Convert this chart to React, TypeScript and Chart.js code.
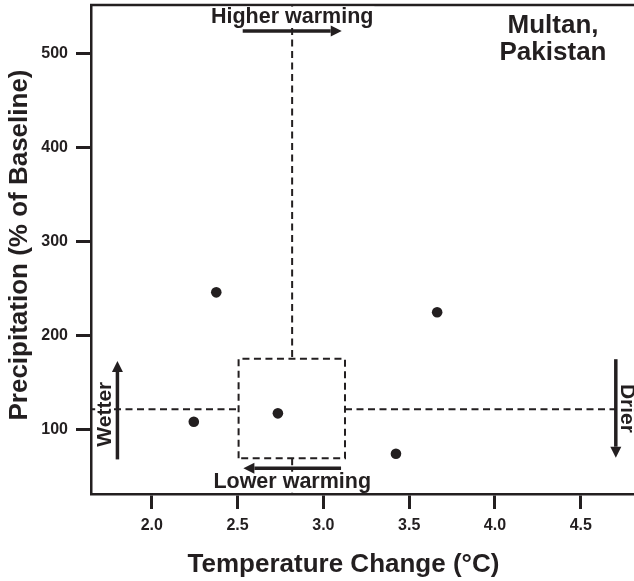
import React, { useEffect, useRef } from "react";
import { Chart, registerables } from "chart.js";

Chart.register(...registerables);

// ---- data ----
const tempChange = [2.376, 3.663, 2.245, 2.735, 3.423];
const precipChange = [245.7, 224.5, 108.1, 117.0, 74.0];
const xTicks = [2.0, 2.5, 3.0, 3.5, 4.0, 4.5];
const yTicks = [100, 200, 300, 400, 500];
const xRange = [1.646, 4.81];
const yRange = [31.2, 551.4];
const centerTemp = 2.818;
const centerPrecip = 121.3;
const boxTemp = [2.506, 3.126];
const boxPrecip = [69.1, 175.1];
const higherArrowX = [2.53, 3.107];
const higherArrowY = 523.7;
const lowerArrowX = [3.103, 2.534];
const lowerArrowY = 58.5;
const wetterArrowX = 1.8;
const wetterArrowY = [68.0, 172.7];
const drierArrowX = 4.704;
const drierArrowY = [174.6, 69.8];
const labels = {
  higher: "Higher warming",
  lower: "Lower warming",
  wetter: "Wetter",
  drier: "Drier",
  place: ["Multan,", "Pakistan"],
  xTitle: "Temperature Change (°C)",
  yTitle: "Precipitation (% of Baseline)",
};

const INK = "#231f20";
const FAMILY = '"Liberation Sans", Arial, Helvetica, sans-serif';

function seg(x1: number, y1: number, x2: number, y2: number) {
  return {
    type: "line" as const,
    data: [
      { x: x1, y: y1 },
      { x: x2, y: y2 },
    ],
    borderColor: INK,
    borderWidth: 2,
    borderDash: [7, 4.5],
    pointRadius: 0,
    showLine: true,
    fill: false,
  };
}

const annotationPlugin = {
  id: "annotations",
  afterDraw(chart: any) {
    const { ctx, chartArea, scales } = chart;
    const xs = scales.x;
    const ys = scales.y;
    const px = (v: number) => xs.getPixelForValue(v);
    const py = (v: number) => ys.getPixelForValue(v);

    ctx.save();
    // top frame line
    ctx.strokeStyle = INK;
    ctx.lineWidth = 2.5;
    ctx.beginPath();
    ctx.moveTo(chartArea.left - 1, chartArea.top);
    ctx.lineTo(chartArea.right, chartArea.top);
    ctx.stroke();

    const arrow = (x1: number, y1: number, x2: number, y2: number) => {
      const ang = Math.atan2(y2 - y1, x2 - x1);
      const hl = 11;
      const hw = 5.5;
      const bx = x2 - hl * Math.cos(ang);
      const by = y2 - hl * Math.sin(ang);
      ctx.strokeStyle = INK;
      ctx.fillStyle = INK;
      ctx.lineWidth = 3.5;
      ctx.beginPath();
      ctx.moveTo(x1, y1);
      ctx.lineTo(bx, by);
      ctx.stroke();
      ctx.beginPath();
      ctx.moveTo(x2, y2);
      ctx.lineTo(bx - hw * Math.sin(ang), by + hw * Math.cos(ang));
      ctx.lineTo(bx + hw * Math.sin(ang), by - hw * Math.cos(ang));
      ctx.closePath();
      ctx.fill();
    };

    const textWithBg = (
      text: string,
      x: number,
      y: number,
      size: number,
      rot: number,
      align: CanvasTextAlign = "center"
    ) => {
      ctx.save();
      ctx.translate(x, y);
      ctx.rotate(rot);
      ctx.font = `bold ${size}px ${FAMILY}`;
      ctx.textAlign = align;
      ctx.textBaseline = "alphabetic";
      const w = ctx.measureText(text).width;
      const left = align === "center" ? -w / 2 : align === "right" ? -w : 0;
      ctx.fillStyle = "#ffffff";
      ctx.fillRect(left - 1, -size * 0.74, w + 2, size * 0.74 + 2);
      ctx.fillStyle = INK;
      ctx.fillText(text, 0, 0);
      ctx.restore();
    };

    // higher warming arrow + label
    const hy = py(higherArrowY);
    const hx1 = px(higherArrowX[0]);
    const hx2 = px(higherArrowX[1]);
    textWithBg(labels.higher, (hx1 + hx2) / 2, hy - 8.5, 21.5, 0);
    arrow(hx1, hy, hx2, hy);

    // lower warming arrow + label
    const ly = py(lowerArrowY);
    const lx1 = px(lowerArrowX[0]);
    const lx2 = px(lowerArrowX[1]);
    textWithBg(labels.lower, (lx1 + lx2) / 2, ly + 19.3, 21.5, 0);
    arrow(lx1, ly, lx2, ly);

    // wetter
    const wx = px(wetterArrowX);
    const wy1 = py(wetterArrowY[0]);
    const wy2 = py(wetterArrowY[1]);
    textWithBg(labels.wetter, wx - 6.7, (wy1 + wy2) / 2 + 4, 21, -Math.PI / 2);
    arrow(wx, wy1, wx, wy2);

    // drier
    const dx = px(drierArrowX);
    const dy1 = py(drierArrowY[0]);
    const dy2 = py(drierArrowY[1]);
    textWithBg(labels.drier, dx + 5.5, (dy1 + dy2) / 2, 21, Math.PI / 2);
    arrow(dx, dy1, dx, dy2);

    // place name
    ctx.fillStyle = INK;
    ctx.font = `bold 26px ${FAMILY}`;
    ctx.textAlign = "center";
    ctx.textBaseline = "alphabetic";
    const cx = chartArea.right - 81;
    ctx.fillText(labels.place[0], cx, chartArea.top + 28);
    ctx.fillText(labels.place[1], cx, chartArea.top + 55);

    // axis titles
    ctx.font = `bold 26px ${FAMILY}`;
    ctx.fillText(labels.xTitle, 343.5, 571.5);
    ctx.save();
    ctx.translate(26.5, 245);
    ctx.rotate(-Math.PI / 2);
    ctx.fillText(labels.yTitle, 0, 0);
    ctx.restore();

    ctx.restore();
  },
};

function zeroPadding(s: any) {
  s.paddingTop = 0;
  s.paddingBottom = 0;
  s.paddingLeft = 0;
  s.paddingRight = 0;
}

export default function App() {
  const ref = useRef<HTMLCanvasElement | null>(null);

  useEffect(() => {
    document.body.style.margin = "0";
    const canvas = ref.current;
    if (!canvas) return;
    Chart.defaults.font.family = FAMILY;
    Chart.defaults.color = INK;

    const points = tempChange.map((t, i) => ({ x: t, y: precipChange[i] }));

    const datasets: any[] = [
      seg(centerTemp, yRange[1], centerTemp, boxPrecip[1]),
      seg(centerTemp, boxPrecip[0], centerTemp, yRange[0]),
      seg(xRange[0], centerPrecip, boxTemp[0], centerPrecip),
      seg(boxTemp[1], centerPrecip, xRange[1], centerPrecip),
      {
        type: "line",
        data: [
          { x: boxTemp[0], y: boxPrecip[0] },
          { x: boxTemp[0], y: boxPrecip[1] },
          { x: boxTemp[1], y: boxPrecip[1] },
          { x: boxTemp[1], y: boxPrecip[0] },
          { x: boxTemp[0], y: boxPrecip[0] },
        ],
        borderColor: INK,
        borderWidth: 2,
        borderDash: [7, 4.5],
        pointRadius: 0,
        showLine: true,
        fill: false,
      },
      {
        type: "scatter",
        data: points,
        pointRadius: 5.3,
        pointHoverRadius: 5.3,
        backgroundColor: INK,
        borderColor: INK,
        borderWidth: 0,
      },
    ];

    const chart = new Chart(canvas, {
      type: "scatter",
      data: { datasets },
      plugins: [annotationPlugin],
      options: {
        responsive: false,
        animation: false,
        devicePixelRatio: 1,
        layout: { autoPadding: false, padding: { top: 5, right: 0, bottom: 0, left: 0 } },
        plugins: {
          legend: { display: false },
          tooltip: { enabled: false },
        },
        scales: {
          x: {
            type: "linear",
            min: xRange[0],
            max: xRange[1],
            afterBuildTicks: (s: any) => {
              s.ticks = xTicks.map((v) => ({ value: v }));
            },
            afterFit: (s: any) => {
              s.height = 87;
              zeroPadding(s);
            },
            ticks: {
              callback: (v: any) => Number(v).toFixed(1),
              font: { size: 16, weight: "bold" },
              color: INK,
              padding: 7,
              maxRotation: 0,
            },
            grid: {
              drawOnChartArea: false,
              drawTicks: true,
              tickLength: 15,
              tickWidth: 3,
              tickColor: INK,
            },
            border: { display: true, color: INK, width: 2.5 },
          },
          y: {
            type: "linear",
            min: yRange[0],
            max: yRange[1],
            afterBuildTicks: (s: any) => {
              s.ticks = yTicks.map((v) => ({ value: v }));
            },
            afterFit: (s: any) => {
              s.width = 91;
              zeroPadding(s);
            },
            ticks: {
              callback: (v: any) => String(v),
              font: { size: 16, weight: "bold" },
              color: INK,
              padding: 8,
            },
            grid: {
              drawOnChartArea: false,
              drawTicks: true,
              tickLength: 15,
              tickWidth: 3,
              tickColor: INK,
            },
            border: { display: true, color: INK, width: 2.5 },
          },
        },
      } as any,
    });

    return () => chart.destroy();
  }, []);

  return (
    <canvas
      ref={ref}
      width={634}
      height={581}
      style={{ display: "block", width: 634, height: 581 }}
    />
  );
}
